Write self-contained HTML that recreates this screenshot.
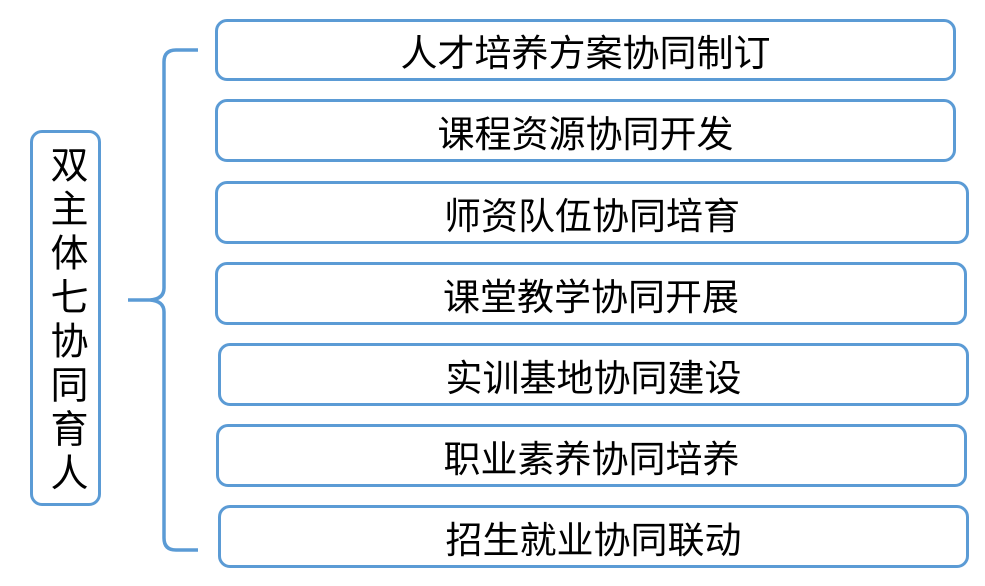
<!DOCTYPE html>
<html><head><meta charset="utf-8"><style>
body{margin:0;width:985px;height:586px;background:#fff;position:relative;overflow:hidden;font-family:"Liberation Sans","Noto Sans CJK SC",sans-serif;}
.b{position:absolute;box-sizing:border-box;border:3px solid #5B9BD5;border-radius:12px;display:flex;align-items:center;justify-content:center;font-size:37px;color:#000;}
.v{writing-mode:vertical-rl;text-orientation:upright;font-size:38px;letter-spacing:6px;padding-top:6px;}
</style></head><body>
<div class="b v" style="left:30px;top:130px;width:71px;height:376px;">双主体七协同育人</div>
<svg style="position:absolute;left:0;top:0" width="985" height="586">
<path d="M198 50 L176 50 Q164 50 164 62 L164 288 Q164 299 150 300 L128 300 M150 300 Q164 301 164 312 L164 538 Q164 550 176 550 L198 550" fill="none" stroke="#5B9BD5" stroke-width="3.5"/>
</svg>
<div class="b" style="left:215px;top:19px;width:741px;height:62px;">人才培养方案协同制订</div>
<div class="b" style="left:215px;top:99px;width:741px;height:63px;">课程资源协同开发</div>
<div class="b" style="left:215px;top:181px;width:754px;height:63px;">师资队伍协同培育</div>
<div class="b" style="left:215px;top:262px;width:752px;height:63px;">课堂教学协同开展</div>
<div class="b" style="left:218px;top:343px;width:751px;height:63px;">实训基地协同建设</div>
<div class="b" style="left:216px;top:424px;width:751px;height:63px;">职业素养协同培养</div>
<div class="b" style="left:218px;top:505px;width:751px;height:63px;">招生就业协同联动</div>
</body></html>
